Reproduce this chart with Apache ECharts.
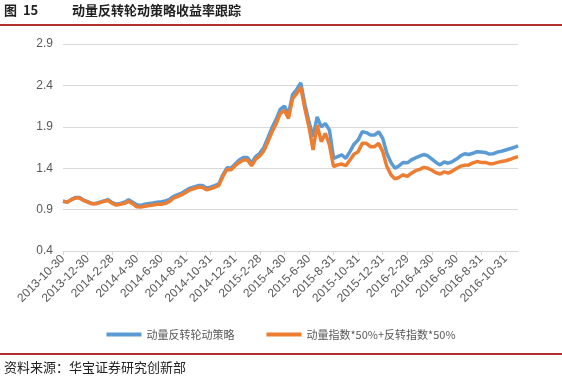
<!DOCTYPE html>
<html>
<head>
<meta charset="utf-8">
<script src="https://cdn.jsdelivr.net/npm/echarts@6/dist/echarts.min.js"></script>
<style>
    html, body { margin: 0; padding: 0; background: #fff; }
    #lineChart { width: 562px; height: 380px; }
</style>
</head>
<body>
<div id="lineChart"></div>
<script>
// 横轴标签（每两个月）
var dateLabels = ['2013-10-30', '2013-12-30', '2014-2-28', '2014-4-30', '2014-6-30', '2014-8-31', '2014-10-31',
    '2014-12-31', '2015-2-28', '2015-4-30', '2015-6-30', '2015-8-31', '2015-10-31', '2015-12-31',
    '2016-2-29', '2016-4-30', '2016-6-30', '2016-8-31', '2016-10-31'];
// 每个标签之间取 6 个点，末尾多 3 个点
var stepsPerLabel = 6;
var tailPoints = 3;

var seriesNames = ['动量反转轮动策略', '动量指数*50%+反转指数*50%'];

// 动量反转轮动策略
var strategy = [
    1.00, 0.99, 1.02, 1.045, 1.045, 1.015,
    0.995, 0.975, 0.975, 0.99, 1.005, 1.02,
    0.985, 0.965, 0.975, 0.99, 1.02, 0.99,
    0.96, 0.95, 0.965, 0.975, 0.98, 0.99,
    0.995, 1.005, 1.025, 1.06, 1.08, 1.10,
    1.13, 1.16, 1.175, 1.19, 1.19, 1.16,
    1.17, 1.19, 1.21, 1.32, 1.405, 1.40,
    1.45, 1.50, 1.53, 1.53, 1.46, 1.54,
    1.58, 1.65, 1.77, 1.89, 1.99, 2.11,
    2.15, 2.05, 2.29, 2.35, 2.43, 2.17,
    1.96, 1.78, 2.02, 1.90, 1.94, 1.86,
    1.52, 1.54, 1.56, 1.52, 1.60, 1.69,
    1.74, 1.84, 1.83, 1.80, 1.80, 1.84,
    1.76, 1.58, 1.47, 1.40, 1.43, 1.47,
    1.465, 1.50, 1.525, 1.545, 1.565, 1.55,
    1.51, 1.47, 1.44, 1.475, 1.46, 1.48,
    1.51, 1.55, 1.575, 1.565, 1.58, 1.60,
    1.595, 1.59, 1.57, 1.575, 1.595, 1.605,
    1.62, 1.635, 1.65, 1.67
];
// 动量指数*50%+反转指数*50%
var benchmark = [
    1.00, 0.99, 1.02, 1.04, 1.04, 1.01,
    0.99, 0.97, 0.97, 0.985, 1.00, 1.01,
    0.975, 0.955, 0.965, 0.975, 1.00, 0.97,
    0.935, 0.93, 0.94, 0.95, 0.955, 0.965,
    0.965, 0.975, 1.00, 1.04, 1.06, 1.08,
    1.11, 1.14, 1.155, 1.17, 1.17, 1.14,
    1.15, 1.17, 1.19, 1.30, 1.385, 1.38,
    1.43, 1.47, 1.50, 1.50, 1.43, 1.51,
    1.55, 1.61, 1.72, 1.84, 1.94, 2.06,
    2.10, 2.00, 2.24, 2.30, 2.38, 2.12,
    1.90, 1.62, 1.92, 1.72, 1.82, 1.68,
    1.42, 1.44, 1.45, 1.43, 1.50, 1.57,
    1.60, 1.70, 1.70, 1.66, 1.66, 1.70,
    1.60, 1.42, 1.32, 1.27, 1.29, 1.32,
    1.30, 1.34, 1.37, 1.385, 1.41, 1.40,
    1.375, 1.345, 1.33, 1.355, 1.34, 1.365,
    1.395, 1.425, 1.435, 1.44, 1.465, 1.48,
    1.47, 1.47, 1.455, 1.455, 1.47, 1.48,
    1.49, 1.505, 1.525, 1.54
];

var categories = [];
for (var j = 0; j < dateLabels.length; j++) {
    var n = (j < dateLabels.length - 1) ? stepsPerLabel : tailPoints + 1;
    for (var k = 0; k < n; k++) {
        categories.push(k === 0 ? dateLabels[j] : dateLabels[j] + '#' + k);
    }
}

var lineChart = echarts.init(document.getElementById('lineChart'));
var cjk = '"Noto Sans CJK SC", sans-serif';
var latin = '"Liberation Sans", Arial, sans-serif';

var option = {
    backgroundColor: '#fff',
    animation: false,
    color: ['#5b9bd5', '#ed7d31'],
    graphic: [
        { type: 'text', left: 4, top: 4, style: { text: '图  15', font: 'bold 13px ' + cjk, fill: '#222' } },
        { type: 'text', left: 72, top: 4, style: { text: '动量反转轮动策略收益率跟踪', font: 'bold 13px ' + cjk, fill: '#222' } },
        { type: 'rect', left: 0, top: 24, shape: { width: 562, height: 2 }, style: { fill: '#b3302b' } },
        { type: 'rect', left: 0, top: 353, shape: { width: 562, height: 2 }, style: { fill: '#b3302b' } },
        { type: 'text', left: 4, top: 361, style: { text: '资料来源：华宝证券研究创新部', font: '13px ' + cjk, fill: '#222' } }
    ],
    legend: {
        top: 324,
        left: 'center',
        itemWidth: 35,
        itemHeight: 4,
        itemGap: 32,
        icon: 'rect',
        textStyle: { fontFamily: cjk, fontSize: 11, color: '#595959' },
        data: seriesNames
    },
    grid: {
        left: 63,
        right: 44,
        top: 44,
        bottom: 129
    },
    xAxis: {
        type: 'category',
        boundaryGap: false,
        data: categories,
        axisLine: { lineStyle: { color: '#d9d9d9' } },
        axisTick: { interval: stepsPerLabel - 1, length: 4, lineStyle: { color: '#d9d9d9' } },
        axisLabel: {
            interval: stepsPerLabel - 1,
            rotate: 45,
            margin: 6,
            fontFamily: latin,
            fontSize: 12,
            color: '#595959'
        }
    },
    yAxis: {
        type: 'value',
        min: 0.4,
        max: 2.9,
        interval: 0.5,
        axisLine: { show: false },
        axisTick: { show: false },
        splitLine: { lineStyle: { color: '#d9d9d9' } },
        axisLabel: {
            margin: 10,
            fontFamily: latin,
            fontSize: 12,
            color: '#595959',
            formatter: function (v) { return v.toFixed(1); }
        }
    },
    series: [
        {
            name: seriesNames[0],
            type: 'line',
            data: strategy,
            symbol: 'none',
            lineStyle: { width: 3.5 }
        },
        {
            name: seriesNames[1],
            type: 'line',
            data: benchmark,
            symbol: 'none',
            lineStyle: { width: 3.5 }
        }
    ]
};

lineChart.setOption(option);
window.addEventListener('resize', function () {
    lineChart.resize();
});
</script>
</body>
</html>
